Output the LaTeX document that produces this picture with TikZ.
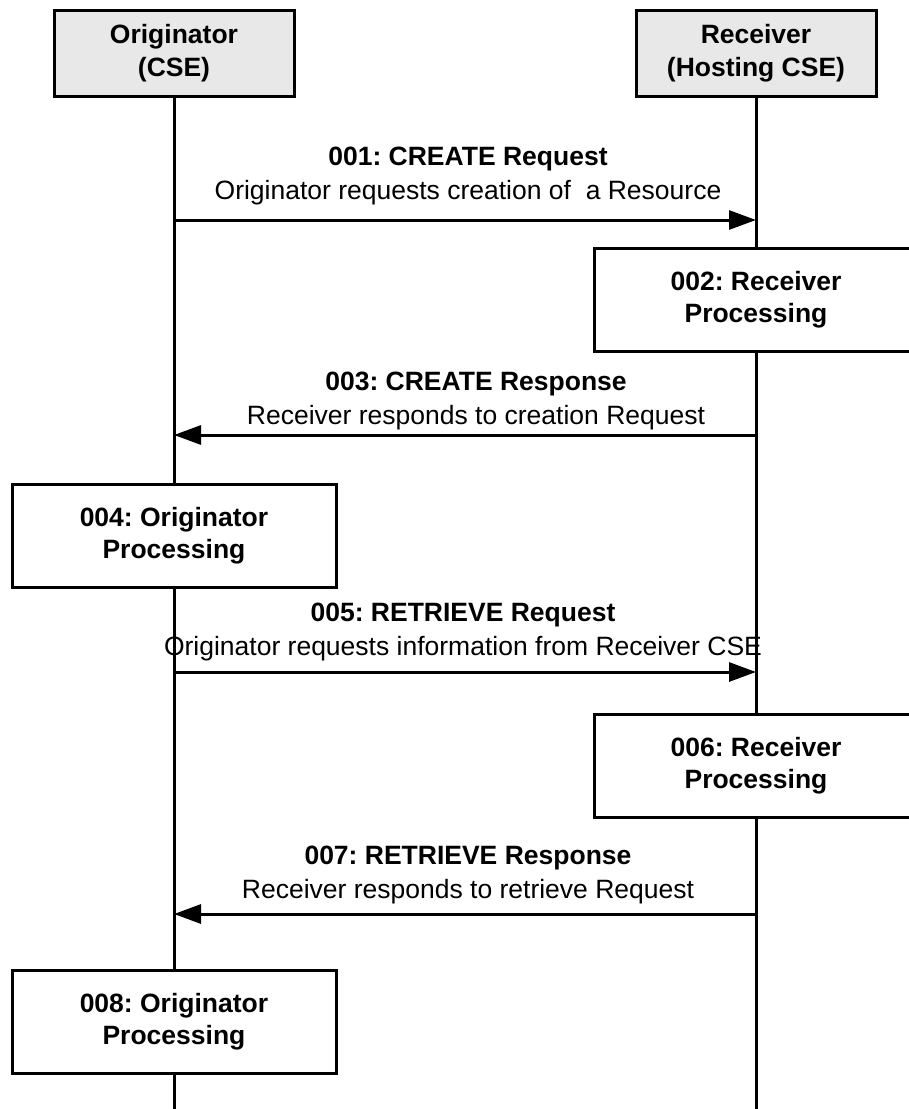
\documentclass[tikz,border=0pt]{standalone}
\usepackage{fontspec}
\setmainfont{Liberation Sans}
\usetikzlibrary{positioning,arrows.meta,calc}
\definecolor{hdFill}{RGB}{232,232,232}
\frenchspacing
\tikzset{
  actor/.style={rectangle, draw=black, fill=hdFill, line width=3pt,
                minimum width=240pt, minimum height=86pt, align=center,
                font=\fontsize{26.5}{33}\selectfont\bfseries},
  proc/.style={rectangle, draw=black, fill=white, line width=3pt,
               minimum width=324pt, minimum height=103pt, align=center,
               font=\fontsize{26.5}{32}\selectfont\bfseries},
  life/.style={draw=black, line width=3pt},
  msg/.style={-{Triangle[length=27pt,width=19pt]}, draw=black, line width=3pt},
  lbl/.style={align=center, inner sep=0pt, font=\fontsize{26.5}{34}\selectfont},
}
\begin{document}
\begin{tikzpicture}[x=1pt,y=-1pt]
  \useasboundingbox (0,0) rectangle (909,1109);
  \clip (0,0) rectangle (909,1109);
  % lifelines
  \node[actor] (orig) at (174,53) {Originator\\(CSE)};
  \node[actor] (recv) at (756,53) {Receiver\\(Hosting CSE)};
  \coordinate (origEnd) at (174,1109);
  \coordinate (recvEnd) at (756,1109);
  \draw[life] (orig.south) -- (origEnd);
  \draw[life] (recv.south) -- (recvEnd);
  % messages
  \coordinate (m1o) at (orig |- 0,220);
  \coordinate (m1r) at (recv |- 0,220);
  \node[lbl] (l1) at (468,176)
    {\textbf{001: CREATE Request}\\Originator requests creation of~ a Resource};
  \draw[msg] (m1o) -- (m1r);
  \coordinate (m3o) at (orig |- 0,435);
  \coordinate (m3r) at (recv |- 0,435);
  \node[lbl] (l3) at (476,401)
    {\textbf{003: CREATE Response}\\Receiver responds to creation Request};
  \draw[msg] (m3r) -- (m3o);
  \coordinate (m5o) at (orig |- 0,672);
  \coordinate (m5r) at (recv |- 0,672);
  \node[lbl] (l5) at (463,632)
    {\textbf{005: RETRIEVE Request}\\Originator requests information from Receiver CSE};
  \draw[msg] (m5o) -- (m5r);
  \coordinate (m7o) at (orig |- 0,914);
  \coordinate (m7r) at (recv |- 0,914);
  \node[lbl] (l7) at (468,875)
    {\textbf{007: RETRIEVE Response}\\Receiver responds to retrieve Request};
  \draw[msg] (m7r) -- (m7o);
  % processing boxes
  \node[proc] (p2) at (756,300) {002: Receiver\\Processing};
  \node[proc] (p4) at (174,536) {004: Originator\\Processing};
  \node[proc] (p6) at (756,766) {006: Receiver\\Processing};
  \node[proc] (p8) at (174,1022) {008: Originator\\Processing};
\end{tikzpicture}
\end{document}
